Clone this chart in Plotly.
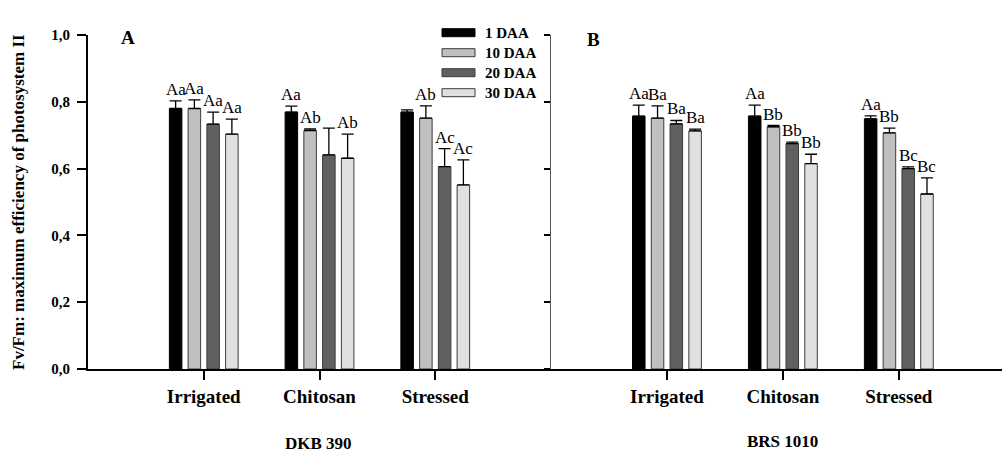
import plotly.graph_objects as go

W, H = 1002, 453

# Treatments and sampling times
treatments = ["Irrigated", "Chitosan", "Stressed"]
times = ["1 DAA", "10 DAA", "20 DAA", "30 DAA"]

# Fv/Fm means (one list per sampling time, ordered as treatments) - DKB 390
dkb_1 = [0.780, 0.769, 0.769]
dkb_10 = [0.780, 0.714, 0.751]
dkb_20 = [0.733, 0.641, 0.606]
dkb_30 = [0.703, 0.631, 0.551]
# standard errors - DKB 390
dkb_1_err = [0.023, 0.018, 0.007]
dkb_10_err = [0.026, 0.005, 0.037]
dkb_20_err = [0.036, 0.080, 0.054]
dkb_30_err = [0.045, 0.072, 0.075]
# letters - DKB 390
dkb_1_lab = ["Aa", "Aa", ""]
dkb_10_lab = ["Aa", "Ab", "Ab"]
dkb_20_lab = ["Aa", "", "Ac"]
dkb_30_lab = ["Aa", "Ab", "Ac"]

# Fv/Fm means - BRS 1010
brs_1 = [0.757, 0.757, 0.749]
brs_10 = [0.751, 0.725, 0.707]
brs_20 = [0.734, 0.675, 0.600]
brs_30 = [0.713, 0.615, 0.524]
# standard errors - BRS 1010
brs_1_err = [0.033, 0.033, 0.009]
brs_10_err = [0.037, 0.004, 0.014]
brs_20_err = [0.010, 0.004, 0.005]
brs_30_err = [0.005, 0.028, 0.048]
# letters - BRS 1010
brs_1_lab = ["Aa", "Aa", "Aa"]
brs_10_lab = ["Ba", "Bb", "Bb"]
brs_20_lab = ["Ba", "Bb", "Bc"]
brs_30_lab = ["Ba", "Bb", "Bc"]

colors = ["#000000", "#c0c0c0", "#606060", "#e0e0e0"]
edges = ["#000000", "#3a3a3a", "#3a3a3a", "#3a3a3a"]

SERIF = "Liberation Serif"
BARGAP = 0.352
GROUPGAP = 0.333

panels = [
    ("x", "y", [dkb_1, dkb_10, dkb_20, dkb_30],
     [dkb_1_err, dkb_10_err, dkb_20_err, dkb_30_err],
     [dkb_1_lab, dkb_10_lab, dkb_20_lab, dkb_30_lab]),
    ("x2", "y2", [brs_1, brs_10, brs_20, brs_30],
     [brs_1_err, brs_10_err, brs_20_err, brs_30_err],
     [brs_1_lab, brs_10_lab, brs_20_lab, brs_30_lab]),
]

fig = go.Figure()
annotations = []
slot = (1 - BARGAP) / len(times)

for xa, ya, means, errs, labs in panels:
    for i, t in enumerate(times):
        fig.add_trace(go.Bar(
            x=treatments, y=means[i], name=t, xaxis=xa, yaxis=ya,
            marker=dict(color=colors[i], line=dict(color=edges[i], width=1)),
            error_y=dict(type="data", symmetric=False, array=errs[i],
                         arrayminus=[0] * len(treatments),
                         color="black", thickness=1.3, width=6),
            showlegend=False,
        ))
        for j in range(len(treatments)):
            if not labs[i][j]:
                continue
            annotations.append(dict(
                x=j + (i - 1.5) * slot, y=means[i][j] + errs[i][j],
                xref=xa, yref=ya, text=labs[i][j], showarrow=False,
                xanchor="center", yanchor="bottom", yshift=0,
                font=dict(family=SERIF, size=17, color="black"),
            ))


def px(x):
    return x / W


def py(y):
    return 1 - y / H


# Legend drawn as wide swatches with labels
shapes = []
for i, t in enumerate(times):
    cy = 32.7 + 20 * i
    shapes.append(dict(type="rect", xref="paper", yref="paper",
                       x0=px(442), x1=px(475), y0=py(cy + 4), y1=py(cy - 4),
                       fillcolor=colors[i], line=dict(color=edges[i], width=1)))
    annotations.append(dict(x=px(483), y=py(cy), xref="paper", yref="paper",
                            text="<b>" + t + "</b>", showarrow=False,
                            xanchor="left", yanchor="middle",
                            font=dict(family=SERIF, size=15, color="black")))

# Panel letters, cultivar names and y title
for txt, x, y, size in [("A", 128, 38, 19), ("B", 593, 39, 19),
                        ("DKB 390", 318, 443, 17), ("BRS 1010", 782, 441, 17)]:
    annotations.append(dict(x=px(x), y=py(y), xref="paper", yref="paper",
                            text="<b>" + txt + "</b>", showarrow=False,
                            xanchor="center", yanchor="middle",
                            font=dict(family=SERIF, size=size, color="black")))
annotations.append(dict(x=px(18), y=py(202), xref="paper", yref="paper",
                        text="<b>Fv/Fm: maximum efficiency of photosystem II</b>",
                        textangle=-90, showarrow=False, xanchor="center",
                        yanchor="middle",
                        font=dict(family=SERIF, size=17, color="black")))

ydom = [py(369), py(35)]
xaxis_common = dict(
    type="category", showline=True, linecolor="black", linewidth=2,
    ticks="outside", ticklen=9, tickwidth=2, tickcolor="black",
    showgrid=False, zeroline=False, automargin=False,
    tickfont=dict(family=SERIF, size=19, color="black", weight="bold"),
)
yaxis_common = dict(
    range=[0, 1], dtick=0.2, tick0=0, tickformat=".1f",
    ticks="outside", ticklen=9, tickwidth=2, tickcolor="black",
    showgrid=False, zeroline=False, domain=ydom, automargin=False,
    tickfont=dict(family=SERIF, size=15, color="black", weight="bold"),
)

fig.update_layout(
    template="none",
    width=W, height=H,
    margin=dict(l=0, r=0, t=0, b=0, pad=0),
    paper_bgcolor="white", plot_bgcolor="white",
    barmode="group", bargap=BARGAP, bargroupgap=GROUPGAP,
    separators=", ",
    xaxis=dict(xaxis_common, domain=[px(88), px(551)], range=[-1, 3],
               anchor="y"),
    xaxis2=dict(xaxis_common, domain=[px(551), 1.0], range=[-1, 2.89],
                anchor="y2"),
    yaxis=dict(yaxis_common, anchor="x", showline=True, linecolor="black",
               linewidth=2, ticklabelstandoff=4),
    yaxis2=dict(yaxis_common, anchor="x2", showline=True, linecolor="#555555",
                linewidth=1, ticklen=6, showticklabels=False),
    shapes=shapes,
    annotations=annotations,
    font=dict(family=SERIF, color="black"),
)

fig.write_html("out.html")
